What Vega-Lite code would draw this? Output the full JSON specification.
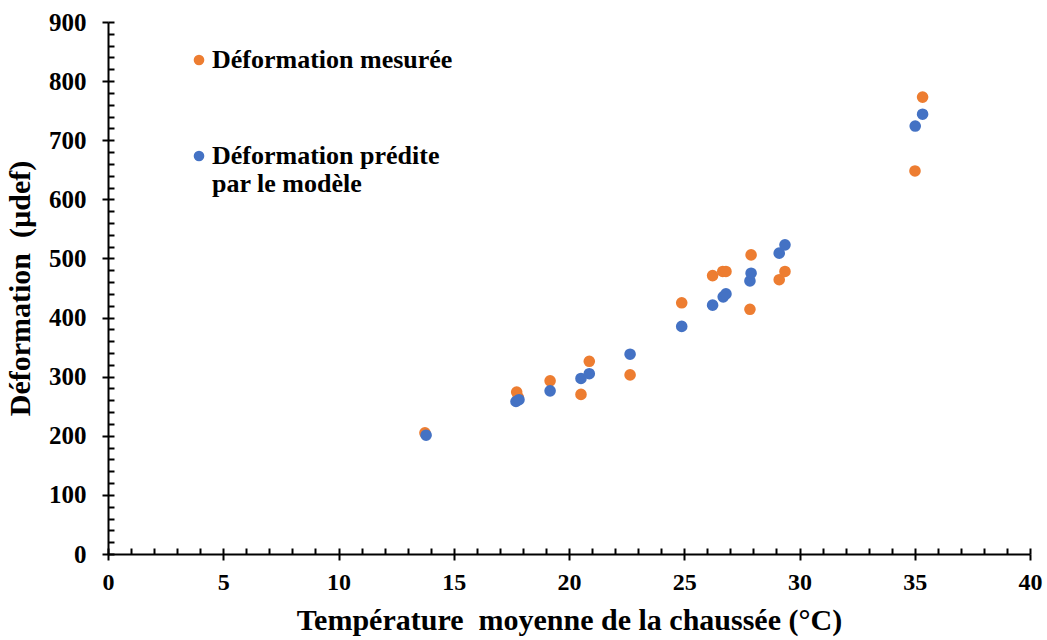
{
  "$schema": "https://vega.github.io/schema/vega-lite/v6.json",
  "width": 922,
  "height": 532,
  "autosize": {"type": "none"},
  "padding": {"left": 108, "top": 22, "right": 17, "bottom": 86},
  "background": "white",
  "config": {
    "view": {"stroke": null},
    "font": "Liberation Serif",
    "axis": {"grid": false, "domainColor": "black", "domainWidth": 2, "tickColor": "black", "tickWidth": 2, "labelColor": "black", "titleColor": "black", "labelFont": "Liberation Serif", "titleFont": "Liberation Serif", "labelFontWeight": "bold", "titleFontWeight": "bold", "labelFontSize": 25, "titleFontSize": 29}
  },
  "data": {
    "values": [
      {"t": 13.75, "d": 205, "serie": "Déformation mesurée"},
      {"t": 17.73, "d": 274, "serie": "Déformation mesurée"},
      {"t": 17.80, "d": 265, "serie": "Déformation mesurée"},
      {"t": 19.18, "d": 293, "serie": "Déformation mesurée"},
      {"t": 20.52, "d": 270, "serie": "Déformation mesurée"},
      {"t": 20.88, "d": 326, "serie": "Déformation mesurée"},
      {"t": 22.65, "d": 303, "serie": "Déformation mesurée"},
      {"t": 24.89, "d": 425, "serie": "Déformation mesurée"},
      {"t": 26.23, "d": 471, "serie": "Déformation mesurée"},
      {"t": 26.67, "d": 478, "serie": "Déformation mesurée"},
      {"t": 26.81, "d": 478, "serie": "Déformation mesurée"},
      {"t": 27.90, "d": 506, "serie": "Déformation mesurée"},
      {"t": 27.85, "d": 414, "serie": "Déformation mesurée"},
      {"t": 29.12, "d": 464, "serie": "Déformation mesurée"},
      {"t": 29.37, "d": 478, "serie": "Déformation mesurée"},
      {"t": 35.01, "d": 648, "serie": "Déformation mesurée"},
      {"t": 35.34, "d": 773, "serie": "Déformation mesurée"},
      {"t": 13.80, "d": 201, "serie": "Déformation prédite par le modèle"},
      {"t": 17.70, "d": 258, "serie": "Déformation prédite par le modèle"},
      {"t": 17.83, "d": 261, "serie": "Déformation prédite par le modèle"},
      {"t": 19.18, "d": 276, "serie": "Déformation prédite par le modèle"},
      {"t": 20.52, "d": 297, "serie": "Déformation prédite par le modèle"},
      {"t": 20.88, "d": 305, "serie": "Déformation prédite par le modèle"},
      {"t": 22.65, "d": 338, "serie": "Déformation prédite par le modèle"},
      {"t": 24.89, "d": 385, "serie": "Déformation prédite par le modèle"},
      {"t": 26.23, "d": 421, "serie": "Déformation prédite par le modèle"},
      {"t": 26.69, "d": 435, "serie": "Déformation prédite par le modèle"},
      {"t": 26.81, "d": 440, "serie": "Déformation prédite par le modèle"},
      {"t": 27.85, "d": 462, "serie": "Déformation prédite par le modèle"},
      {"t": 27.90, "d": 475, "serie": "Déformation prédite par le modèle"},
      {"t": 29.12, "d": 509, "serie": "Déformation prédite par le modèle"},
      {"t": 29.37, "d": 523, "serie": "Déformation prédite par le modèle"},
      {"t": 35.02, "d": 724, "serie": "Déformation prédite par le modèle"},
      {"t": 35.34, "d": 744, "serie": "Déformation prédite par le modèle"}
    ]
  },
  "layer": [
    {
      "mark": {"type": "point", "filled": true, "opacity": 1, "size": 135},
      "encoding": {
        "x": {"field": "t", "type": "quantitative", "scale": {"domain": [0, 40], "nice": false, "zero": true},
          "axis": {"orient": "bottom", "values": [0, 5, 10, 15, 20, 25, 30, 35, 40], "tickSize": 6, "labelPadding": 10, "labelFontSize": 24, "labelFlush": false, "title": "Température\u00a0 moyenne de la chaussée (°C)", "titlePadding": 11, "titleFontSize": 30}},
        "y": {"field": "d", "type": "quantitative", "scale": {"domain": [0, 900], "nice": false},
          "axis": {"orient": "left", "values": [0, 100, 200, 300, 400, 500, 600, 700, 800, 900], "tickSize": 6, "labelPadding": 16, "title": "Déformation\u00a0 (µdef)", "titlePadding": 13, "titleFontSize": 30}},
        "color": {"field": "serie", "type": "nominal",
          "scale": {"domain": ["Déformation mesurée", "Déformation prédite par le modèle"], "range": ["#ED7D31", "#4472C4"]},
          "legend": {"orient": "none", "legendX": 78, "legendY": 25, "title": null, "symbolType": "circle", "symbolSize": 113, "symbolStrokeWidth": 0, "labelFont": "Liberation Serif", "labelFontWeight": "bold", "labelFontSize": 26, "labelColor": "black", "labelOffset": 0, "labelLimit": 400, "rowPadding": 70, "padding": 0,
            "labelExpr": "datum.label == 'Déformation prédite par le modèle' ? ['Déformation prédite', 'par le modèle'] : datum.label"}}
      }
    },
    {
      "mark": {"type": "point", "opacity": 0},
      "encoding": {
        "x": {"field": "t", "type": "quantitative", "scale": {"domain": [0, 40], "nice": false},
          "axis": {"orient": "bottom", "values": [0,1,2,3,4,5,6,7,8,9,10,11,12,13,14,15,16,17,18,19,20,21,22,23,24,25,26,27,28,29,30,31,32,33,34,35,36,37,38,39,40], "tickSize": -6, "labels": false, "domain": false, "title": null}},
        "y": {"field": "d", "type": "quantitative", "scale": {"domain": [0, 900], "nice": false},
          "axis": {"orient": "left", "values": [0,20,40,60,80,100,120,140,160,180,200,220,240,260,280,300,320,340,360,380,400,420,440,460,480,500,520,540,560,580,600,620,640,660,680,700,720,740,760,780,800,820,840,860,880,900], "tickSize": -6, "labels": false, "domain": false, "title": null}}
      }
    }
  ],
  "resolve": {"axis": {"x": "independent", "y": "independent"}}
}
